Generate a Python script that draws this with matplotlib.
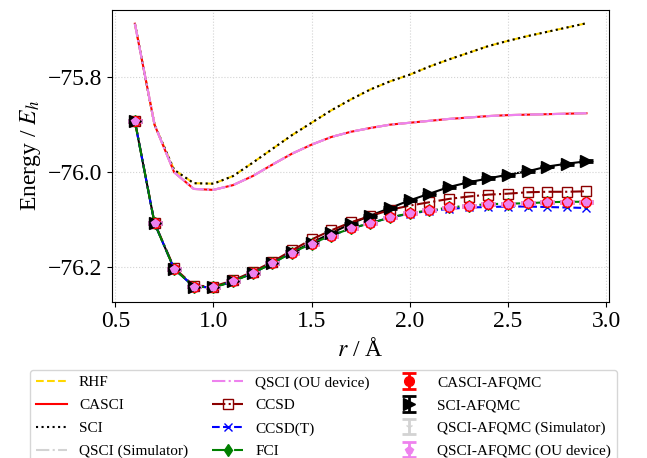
import numpy as np
import matplotlib
matplotlib.use("Agg")
import matplotlib.pyplot as plt

plt.rcParams['font.family'] = 'serif'
plt.rcParams['font.serif'] = ['Liberation Serif', 'DejaVu Serif']
plt.rcParams['mathtext.fontset'] = 'stix'

r = [0.6, 0.7, 0.8, 0.9, 1.0, 1.1, 1.2, 1.3, 1.4, 1.5, 1.6, 1.7, 1.8, 1.9,
     2.0, 2.1, 2.2, 2.3, 2.4, 2.5, 2.6, 2.7, 2.8, 2.9]

rhf = [-75.688, -75.900, -75.995, -76.023, -76.024, -76.008, -75.980, -75.951,
       -75.922, -75.896, -75.870, -75.847, -75.826, -75.809, -75.795, -75.778,
       -75.763, -75.749, -75.735, -75.724, -75.714, -75.705, -75.696, -75.687]
sci = [-75.688, -75.900, -75.995, -76.023, -76.024, -76.008, -75.980, -75.951,
       -75.922, -75.896, -75.870, -75.847, -75.826, -75.809, -75.795, -75.778,
       -75.763, -75.749, -75.735, -75.724, -75.714, -75.705, -75.696, -75.687]
casci = [-75.688, -75.900, -76.000, -76.035, -76.037, -76.027, -76.008, -75.984,
         -75.961, -75.942, -75.926, -75.915, -75.907, -75.900, -75.896, -75.892,
         -75.888, -75.885, -75.882, -75.880, -75.879, -75.878, -75.877, -75.876]
qsci_sim = [-75.688, -75.900, -76.000, -76.035, -76.037, -76.027, -76.008, -75.984,
            -75.961, -75.942, -75.926, -75.915, -75.907, -75.900, -75.896, -75.892,
            -75.888, -75.885, -75.882, -75.880, -75.879, -75.878, -75.877, -75.876]
qsci_ou = [-75.688, -75.900, -76.000, -76.035, -76.037, -76.027, -76.008, -75.984,
           -75.961, -75.942, -75.926, -75.915, -75.907, -75.900, -75.896, -75.892,
           -75.888, -75.885, -75.882, -75.880, -75.879, -75.878, -75.877, -75.876]
ccsd = [-75.892, -76.106, -76.201, -76.238, -76.240, -76.227, -76.209, -76.188,
        -76.164, -76.141, -76.122, -76.105, -76.092, -76.079, -76.070, -76.063,
        -76.056, -76.051, -76.047, -76.045, -76.042, -76.041, -76.041, -76.040]
ccsd_t = [-75.893, -76.107, -76.203, -76.240, -76.242, -76.229, -76.212, -76.191,
          -76.169, -76.150, -76.133, -76.118, -76.107, -76.095, -76.087, -76.081,
          -76.077, -76.074, -76.073, -76.072, -76.072, -76.073, -76.074, -76.075]
fci = [-75.893, -76.107, -76.203, -76.240, -76.242, -76.229, -76.212, -76.191,
       -76.169, -76.150, -76.133, -76.118, -76.107, -76.095, -76.086, -76.080,
       -76.074, -76.070, -76.067, -76.066, -76.065, -76.063, -76.062, -76.062]
casci_afqmc = [-75.893, -76.107, -76.203, -76.240, -76.242, -76.229, -76.212, -76.191,
               -76.169, -76.150, -76.133, -76.118, -76.107, -76.095, -76.086, -76.080,
               -76.074, -76.070, -76.067, -76.066, -76.065, -76.063, -76.062, -76.062]
casci_afqmc_err = [0.002] * 24
sci_afqmc = [-75.893, -76.107, -76.203, -76.240, -76.242, -76.229, -76.212, -76.191,
             -76.168, -76.148, -76.128, -76.108, -76.091, -76.075, -76.059, -76.045,
             -76.031, -76.021, -76.013, -76.005, -75.998, -75.988, -75.982, -75.977]
sci_afqmc_err = [0.002] * 24
qsci_afqmc_sim = [-75.893, -76.107, -76.203, -76.240, -76.242, -76.229, -76.212, -76.191,
                  -76.169, -76.150, -76.133, -76.118, -76.107, -76.095, -76.086, -76.080,
                  -76.074, -76.070, -76.067, -76.066, -76.065, -76.063, -76.062, -76.062]
qsci_afqmc_sim_err = [0.002] * 24
qsci_afqmc_ou = [-75.893, -76.107, -76.203, -76.240, -76.242, -76.229, -76.212, -76.191,
                 -76.169, -76.150, -76.133, -76.118, -76.107, -76.095, -76.086, -76.080,
                 -76.074, -76.070, -76.067, -76.066, -76.065, -76.063, -76.062, -76.062]
qsci_afqmc_ou_err = [0.002] * 24

fig = plt.figure(figsize=(6.47, 4.58), dpi=100)
ax = fig.add_axes([0.1736, 0.3413, 0.9413 - 0.1736, 0.9782 - 0.3413])

# connecting line for SCI-AFQMC, drawn beneath the other series
ax.plot(r, sci_afqmc, '-', color='black', lw=1.5, zorder=1.5)

ax.plot(r, rhf, '--', color='gold', lw=1.5, label='RHF')
ax.plot(r, casci, '-', color='red', lw=1.5, label='CASCI')
ax.plot(r, sci, ':', color='black', lw=1.5, label='SCI')
ax.plot(r, qsci_sim, '-.', color='lightgray', lw=1.5, label='QSCI (Simulator)')
ax.plot(r, qsci_ou, '-.', color='violet', lw=1.5, label='QSCI (OU device)')
ax.plot(r, ccsd, '-.', color='darkred', lw=1.5, marker='s', mfc='none', ms=7,
        label='CCSD')
ax.plot(r, ccsd_t, '--', color='blue', lw=1.5, marker='x', ms=6, label='CCSD(T)')
ax.plot(r, fci, '-.', color='green', lw=1.5, marker='d', ms=6, label='FCI')
ax.errorbar(r, casci_afqmc, yerr=casci_afqmc_err, fmt='o', color='red', ms=7,
            capsize=5, elinewidth=2, capthick=2, label='CASCI-AFQMC')
ax.errorbar(r, sci_afqmc, yerr=sci_afqmc_err, fmt='>', color='black', ms=8,
            capsize=5, elinewidth=2, capthick=2, label='SCI-AFQMC')
ax.errorbar(r, qsci_afqmc_sim, yerr=qsci_afqmc_sim_err, fmt='1', color='lightgray',
            ms=6, capsize=5, elinewidth=2, capthick=2, label='QSCI-AFQMC (Simulator)')
ax.errorbar(r, qsci_afqmc_ou, yerr=qsci_afqmc_ou_err, fmt='p', color='violet',
            ms=6, capsize=5, elinewidth=2, capthick=2, label='QSCI-AFQMC (OU device)')

ax.set_yticks([-75.8, -76.0, -76.2])
ax.set_xticks([0.5, 1.0, 1.5, 2.0, 2.5, 3.0])
ax.tick_params(labelsize=17)
ax.grid(True, linestyle=':', color='lightgray')
ax.set_xlabel(r'$r$ / Å', fontsize=17)
ax.set_ylabel(r'Energy / $E_h$', fontsize=17)

fig.legend(*ax.get_legend_handles_labels(), loc='upper center',
           bbox_to_anchor=(0.5, 1 - 362 / 458), ncol=3, fontsize=11,
           labelspacing=0.6, columnspacing=1.6)

fig.savefig('out.png', dpi=100)
